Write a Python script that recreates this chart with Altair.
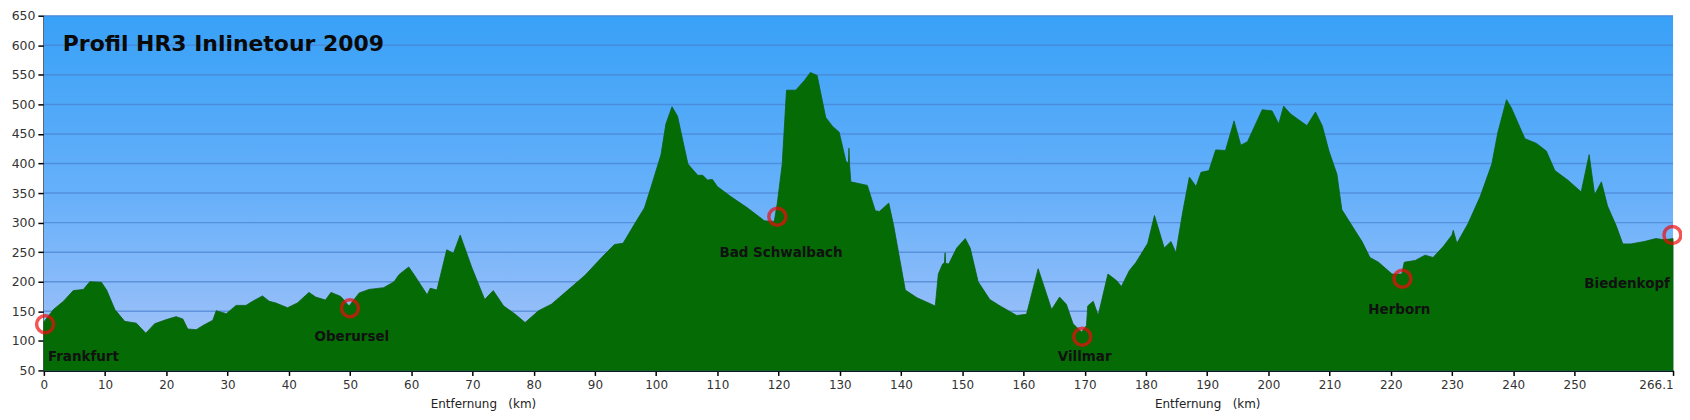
import altair as alt
import pandas as pd

# ---- elevation profile (km, metres) ----
km = [0, 1.56, 3.2, 4.8, 6.45, 7.5, 9.4, 10.25, 11.6, 13.2, 15.1, 16.65, 18.1, 20, 21.6, 22.7,
      23.5, 24.9, 26, 27.6, 28.15, 29.8, 31.4, 33, 34.1, 35.7, 36.8, 37.9, 39.8, 41.4, 43.3, 44.4,
      46, 46.9, 48.5, 49.85, 51.5, 53.1, 55.5, 57.2, 58, 59.6, 60.4, 62.6, 63.1, 64.2, 65.8, 66.9,
      68, 69.9, 72, 73.4, 75.1, 77, 78.6, 80.8, 82.9, 85.6, 88.4, 91.1, 93.2, 94.6, 96.5, 98.1,
      99.2, 100.8, 101.6, 102.6, 103.5, 104.4, 105.2, 106.8, 107.6, 108.4, 109.2, 110, 112.2,
      114.9, 117.7, 119.3, 119.8, 120.6, 121.3, 122.8, 124.2, 125.2, 126.3, 127.7, 128.8, 129.9,
      131, 131.4, 131.5, 131.6, 131.8, 134.5, 135.8, 136.5, 138, 138.8, 140.7, 142.6, 145.6,
      146.1, 146.8, 147.1, 147.2, 147.3, 147.8, 149.1, 150.5, 151.3, 152.6, 154.5, 156.2, 158.9,
      160.5, 162.4, 164.6, 165.9, 167, 168.1, 169.5, 170.3, 170.5, 171.4, 172.2, 173.8, 175.2,
      176, 177.3, 178.4, 180.3, 181.4, 183, 184.1, 184.9, 186, 187.1, 188.2, 189, 190.3, 191.4,
      193, 194.4, 195.5, 196.6, 199, 200.6, 201.7, 202.5, 203.6, 206.3, 207.7, 208.8, 209.9,
      211.2, 212, 214.2, 215.3, 216.6, 218, 220.2, 221.8, 222.2, 224, 225.6, 226.9, 228.6, 230,
      230.2, 230.8, 232.6, 234.6, 236.5, 237.5, 238.9, 239.7, 241.9, 243.8, 245.4, 246.8, 248.9,
      251.1, 252.4, 253.3, 254.4, 255.4, 256.8, 257.9, 259.2, 261.4, 263.3, 264.7, 266.1]
elev = [132, 153, 167, 185, 187, 200, 199, 186, 153, 133, 130, 113, 129, 136, 141, 137,
        120, 119, 126, 135, 151, 146, 160, 160, 167, 176, 167, 164, 156, 164, 182, 174,
        169, 182, 175, 159, 181, 187, 190, 200, 212, 225, 213, 178, 189, 186, 254, 248,
        279, 224, 170, 185, 159, 145, 131, 151, 162, 186, 211, 241, 263, 265, 298, 325,
        361, 415, 467, 496, 480, 437, 399, 380, 380, 372, 373, 361, 344,
        325, 303, 302, 333, 399, 524, 524, 540, 554, 549, 478, 463, 453,
        404, 400, 426, 398, 369, 363, 320, 319, 333, 295, 186, 173, 159,
        213, 230, 232, 249, 231, 230, 257, 273, 257, 200, 170, 159, 143,
        145, 222, 153, 174, 162, 129, 115, 126, 159, 167, 143, 213, 202,
        192, 219, 233, 265, 312, 257, 268, 249, 317, 377, 361, 385, 388, 423,
        422, 472, 431, 437, 491, 489, 467, 497, 484, 464, 487, 464, 421,
        382, 322, 286, 268, 241, 233, 213, 213, 233, 236, 245, 241, 260, 279,
        287, 265, 298, 344, 399, 453, 508, 494, 442, 434, 421, 388, 372,
        352, 415, 347, 369, 328, 295, 264, 264, 268, 273, 271, 273]

# ---- towns ----
towns = ["Frankfurt", "Oberursel", "Bad Schwalbach", "Villmar", "Herborn", "Biedenkopf"]
town_km = [0.2, 50.0, 119.8, 169.6, 221.9, 266.0]
town_elev = [128, 155, 310, 107, 205, 279]
label_km = [6.45, 50.3, 120.4, 170.0, 221.4, 258.6]
label_elev = [73, 107, 248, 72, 153, 197]

x_ticks = [0, 10, 20, 30, 40, 50, 60, 70, 80, 90, 100, 110, 120, 130, 140, 150, 160, 170,
           180, 190, 200, 210, 220, 230, 240, 250, 266.1]
y_ticks = [50, 100, 150, 200, 250, 300, 350, 400, 450, 500, 550, 600, 650]
chart_title = "Profil HR3 Inlinetour 2009"
axis_title = "Entfernung\u00a0\u00a0\u00a0(km)"
axis_title_km = [71.8, 190.1]

W, H = 1635, 356

profile = pd.DataFrame({"km": km, "elev": elev})
town_df = pd.DataFrame({"town": towns, "km": town_km, "elev": town_elev})
label_df = pd.DataFrame({"town": towns, "km": label_km, "elev": label_elev})
grid_df = pd.DataFrame({"elev": y_ticks})
axt_df = pd.DataFrame({"km": axis_title_km, "t": [axis_title] * len(axis_title_km)})

xscale = alt.Scale(domain=[0, 266.1], nice=False, zero=False)
yscale = alt.Scale(domain=[50, 650], nice=False, zero=False)

xaxis = alt.Axis(values=x_ticks, format=".1~f", title=None, grid=False, labelOverlap=False,
                 labelFont="DejaVu Sans", labelFontSize=12, labelColor="#333333",
                 labelAlign=alt.ExprRef(expr="datum.value > 260 ? 'right' : 'center'"),
                 domainColor="#000000", domainWidth=2, tickColor="#000000",
                 tickWidth=1.5, tickSize=5, labelPadding=4)
yaxis = alt.Axis(values=y_ticks, title=None, grid=False, labelOverlap=False,
                 labelFont="DejaVu Sans", labelFontSize=12.5, labelColor="#333333",
                 domainColor="#000000", domainWidth=2, tickColor="#000000",
                 tickWidth=1.5, tickSize=6, labelPadding=3)

X = lambda: alt.X("km:Q", scale=xscale, axis=xaxis)
Y = lambda: alt.Y("elev:Q", scale=yscale, axis=yaxis)

bg = alt.Chart(alt.Data(values=[{}])).mark_rect(
    color=alt.LinearGradient(
        gradient="linear", x1=0, x2=0, y1=0, y2=1,
        stops=[alt.GradientStop(offset=0, color="#38a1f7"),
               alt.GradientStop(offset=0.5, color="#66b0fa"),
               alt.GradientStop(offset=1, color="#a9c4f8")])
).encode(x=alt.value(0), x2=alt.value(W), y=alt.value(0), y2=alt.value(H))

grid = alt.Chart(grid_df).mark_rule(color="#4a82d0", strokeWidth=1.5, opacity=0.7).encode(
    y=Y()
)

area = alt.Chart(profile).mark_area(color="#056b05", stroke="#0b5e12", strokeWidth=0.8).encode(
    x=X(), y=Y(), y2=alt.datum(50),
)

rings = alt.Chart(town_df).mark_point(
    shape="circle", filled=False, color="#ee0c0c", strokeWidth=3.5, size=290
).encode(x=X(), y=Y())

labels = alt.Chart(label_df).mark_text(
    font="DejaVu Sans", fontWeight="bold", fontSize=13.5, color="#111111",
    align="center", baseline="middle"
).encode(x=X(), y=Y(), text="town:N")

title = alt.Chart(alt.Data(values=[{"t": chart_title}])).mark_text(
    font="DejaVu Sans", fontWeight="bold", fontSize=22, color="#0a0a0a",
    align="left", baseline="middle"
).encode(x=alt.value(19), y=alt.value(28), text="t:N")

axis_titles = alt.Chart(axt_df).mark_text(
    font="DejaVu Sans", fontSize=12, color="#222222", align="center", baseline="middle"
).encode(x=X(), y=alt.value(H + 34), text="t:N")

chart = alt.layer(bg, grid, area, rings, labels, title, axis_titles).properties(
    width=W, height=H,
    autosize=alt.AutoSizeParams(type="none"),
    padding={"left": 36, "top": 7, "right": 9, "bottom": 42},
    background="#ffffff",
).configure_view(stroke=None).configure_axis(labelOverlap=False)

chart.save("out.html", embed_options={"renderer": "svg", "actions": False})
